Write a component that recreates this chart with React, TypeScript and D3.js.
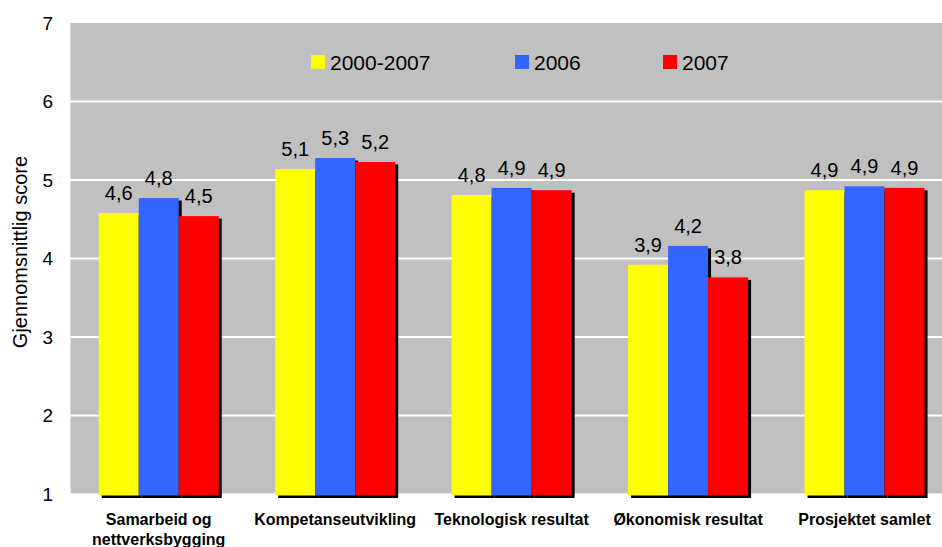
import React from "react";
import * as d3 from "d3";

const categories: string[][] = [
  ["Samarbeid og", "nettverksbygging"],
  ["Kompetanseutvikling"],
  ["Teknologisk resultat"],
  ["Økonomisk resultat"],
  ["Prosjektet samlet"],
];
const seriesNames = ["2000-2007", "2006", "2007"];
const seriesColors = ["#FFFF00", "#3366FF", "#FF0000"];
const values2000_2007 = [4.58, 5.14, 4.81, 3.92, 4.87];
const values2006 = [4.77, 5.28, 4.9, 4.16, 4.92];
const values2007 = [4.54, 5.23, 4.87, 3.76, 4.9];
const yTicks = [1, 2, 3, 4, 5, 6, 7];

const W = 942;
const H = 547;

export default function App() {
  const series = [values2000_2007, values2006, values2007];
  const catKeys = categories.map((c) => c.join(" "));
  const plotLeft = 70.5;
  const plotRight = 952.75;
  const plotTop = 23;
  const plotBottom = 494;

  const y = d3.scaleLinear().domain([1, 7]).range([plotBottom, plotTop]);
  const x0 = d3.scaleBand<string>().domain(catKeys).range([plotLeft, plotRight]);
  const groupW = 120;
  const x1 = d3.scaleBand<string>().domain(seriesNames).range([0, groupW]);
  const fmt = (v: number) => d3.format(".1f")(v).replace(".", ",");
  const font = "'Liberation Sans', Arial, sans-serif";

  return (
    <svg
      width={W}
      height={H}
      style={{ position: "absolute", left: 0, top: 0, background: "#fff" }}
      fontFamily={font}
    >
      <rect x={plotLeft} y={plotTop} width={plotRight - plotLeft} height={plotBottom - plotTop - 0.7} fill="#C0C0C0" />
      {yTicks.slice(1, -1).map((t) => (
        <line key={t} x1={plotLeft} x2={plotRight} y1={y(t)} y2={y(t)} stroke="#fff" strokeWidth={2} />
      ))}
      {yTicks.map((t) => (
        <text key={t} x={53} y={y(t)} dy="0.35em" textAnchor="end" fontSize={19} fill="#000">
          {t}
        </text>
      ))}
      <text
        transform={`translate(27,252) rotate(-90)`}
        textAnchor="middle"
        fontSize={20}
        fill="#000"
      >
        Gjennomsnittlig score
      </text>
      {catKeys.map((ck, ci) => {
        const gx = (x0(ck) as number) + (x0.bandwidth() - groupW) / 2;
        return (
          <g key={ck}>
            {series.map((vals, si) => {
              const bx = gx + (x1(seriesNames[si]) as number);
              const top = y(vals[ci]);
              return (
                <g key={si}>
                  <rect x={bx + 3} y={top + 2.5} width={x1.bandwidth()} height={plotBottom + 1.5 - top} fill="#000" />
                  <rect x={bx} y={top} width={x1.bandwidth()} height={plotBottom + 1.5 - top} fill={seriesColors[si]} />
                </g>
              );
            })}
            {series.map((vals, si) => {
              const bx = gx + (x1(seriesNames[si]) as number);
              return (
                <text
                  key={"l" + si}
                  x={bx + x1.bandwidth() / 2}
                  y={y(vals[ci]) - 13}
                  textAnchor="middle"
                  fontSize={20}
                  fill="#000"
                >
                  {fmt(vals[ci])}
                </text>
              );
            })}
            <text
              x={(x0(ck) as number) + x0.bandwidth() / 2}
              y={525}
              textAnchor="middle"
              fontSize={16}
              fontWeight="bold"
              fill="#000"
            >
              {categories[ci].map((line, li) => (
                <tspan key={li} x={(x0(ck) as number) + x0.bandwidth() / 2} dy={li === 0 ? 0 : 20}>
                  {line}
                </tspan>
              ))}
            </text>
          </g>
        );
      })}
      {seriesNames.map((s, i) => {
        const lx = [311, 515, 663][i];
        return (
          <g key={s}>
            <rect x={lx} y={55} width={14} height={14} fill={seriesColors[i]} />
            <text x={lx + 19} y={62} dy="0.36em" fontSize={21} fill="#000">
              {s}
            </text>
          </g>
        );
      })}
    </svg>
  );
}
